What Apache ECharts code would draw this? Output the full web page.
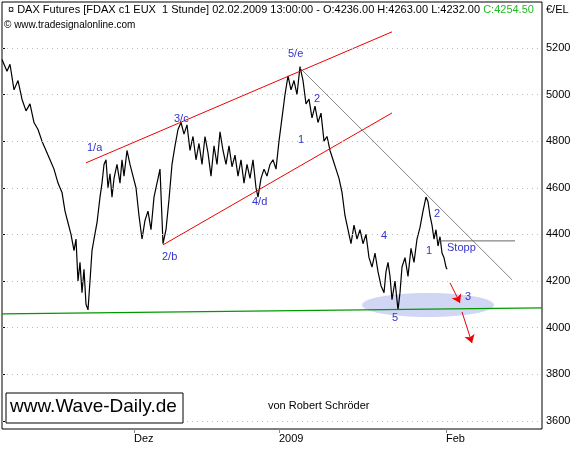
<!DOCTYPE html>
<html><head><meta charset="utf-8">
<script src="https://cdn.jsdelivr.net/npm/echarts@6/dist/echarts.min.js"></script>
<style>html,body{margin:0;background:#fff}#c{width:580px;height:449px}</style>
</head><body><div id="c"></div>
<script>
// Kursverlauf: Bar-Position auf der Zeitachse und Kurs
const barX = [0,5,8,12,16,20,24,28,32,36,40,44,48,52,56,60,63,66,69,72,74,76,78,80,82,84,86,88,90,92,95,98,100,102,104,106,108,110,112,115,118,120,122,125,128,131,134,137,140,143,146,149,152,155,158,161,164,167,170,173,176,179,182,185,188,191,194,197,200,203,206,209,212,215,218,221,224,227,230,233,236,239,242,245,248,251,254,256,259,262,265,268,271,274,277,280,283,286,289,292,295,298,301,304,307,310,313,316,319,322,325,328,331,334,337,340,343,346,349,352,355,358,361,364,367,370,373,376,379,382,384,386,388,390,393,396,398,400,403,406,409,412,415,418,421,424,426,428,430,432,434,436,438,440,442,444,445];
const price = [5150,5100,5130,5020,5060,4980,4930,4960,4880,4850,4800,4760,4720,4680,4620,4580,4500,4450,4400,4330,4380,4200,4280,4150,4250,4100,4076,4200,4330,4380,4450,4560,4620,4700,4720,4600,4660,4560,4640,4700,4620,4720,4650,4760,4700,4650,4600,4480,4380,4460,4500,4420,4560,4620,4680,4360,4420,4550,4700,4780,4850,4880,4830,4870,4760,4820,4720,4790,4700,4820,4750,4650,4780,4700,4840,4760,4700,4780,4690,4740,4650,4720,4620,4700,4640,4720,4600,4560,4640,4680,4650,4700,4720,4680,4800,4900,5000,5080,5020,5060,5000,5120,5060,4960,4980,4900,4950,4880,4920,4800,4820,4760,4720,4680,4640,4580,4480,4420,4360,4440,4380,4420,4360,4400,4300,4260,4320,4240,4180,4150,4240,4280,4220,4120,4200,4076,4150,4260,4300,4220,4340,4280,4380,4430,4500,4560,4540,4480,4440,4380,4420,4350,4390,4320,4300,4260,4250];
// Trendlinien
const upperChannel = [[84,4707],[390,5269]];
const lowerChannel = [[161,4355],[390,4921]];
const resistLine = [[298,5114],[510,4205]];
const supportLine = [[0,4059],[540,4085]];
const stoppLine = [[436,4372],[513,4372]];
const arrow1 = [[448,4192],[458,4106]];
const arrow2 = [[460,4067],[470,3934]];
const yTicks = [3600,3800,4000,4200,4400,4600,4800,5000,5200];
const xTicks = [132,277,444];
const xTickLabels = ['Dez','2009','Feb'];

const priceData = barX.map((x, i) => [x, price[i]]);

const chart = echarts.init(document.getElementById('c'));
const lineS = (data, color, w) => ({
  type: 'line', data: data, symbol: 'none',
  lineStyle: { color: color, width: w }, silent: true, z: 3
});
const arrowS = (a) => ({
  type: 'line', data: [], silent: true,
  markLine: { silent: true, symbol: ['none', 'arrow'], symbolSize: 8, label: { show: false },
    lineStyle: { color: '#ee0000', width: 1, type: 'solid' },
    data: [[{ coord: a[0] }, { coord: a[1] }]] }
});
const blue = '#3333cc';
const lbl = (x, y, t) => ({ type: 'text', left: x, top: y, style: { text: t, fill: blue, font: '11px Arial' }, z: 10 });
chart.setOption({
  animation: false,
  grid: { left: 2, right: 38, top: 2, bottom: 20, show: true, borderColor: '#000', borderWidth: 1 },
  xAxis: {
    type: 'value', min: 0, max: 540,
    axisLine: { show: false }, splitLine: { show: false },
    axisTick: { show: true, customValues: xTicks, length: 4, lineStyle: { color: '#888' } },
    axisLabel: { customValues: xTicks, formatter: v => xTickLabels[xTicks.indexOf(v)] || '', color: '#000', fontSize: 11, fontFamily: 'Arial', align: 'left', margin: 4 }
  },
  yAxis: {
    type: 'value', position: 'right', min: 3565, max: 5397, scale: true,
    axisLine: { show: false }, splitLine: { show: false },
    axisTick: { show: true, customValues: yTicks, length: 3, lineStyle: { color: '#000' } },
    axisLabel: { customValues: yTicks, formatter: v => String(v), color: '#000', fontSize: 11, fontFamily: 'Arial', margin: 4 }
  },
  series: [
    { type: 'line', data: priceData, symbol: 'none', lineStyle: { color: '#000', width: 1.2 }, z: 2,
      markLine: { silent: true, symbol: 'none', label: { show: false },
        lineStyle: { color: '#bbb', type: [1, 4], width: 1 },
        data: yTicks.map(v => ({ yAxis: v })) } },
    lineS(upperChannel, '#ee0000', 1),
    lineS(lowerChannel, '#ee0000', 1),
    lineS(resistLine, '#666', 0.8),
    lineS(supportLine, '#009900', 1.2),
    lineS(stoppLine, '#666', 1),
    arrowS(arrow1),
    arrowS(arrow2)
  ],
  graphic: [
    { type: 'ellipse', shape: { cx: 428, cy: 305, rx: 66, ry: 12 }, style: { fill: 'rgba(170,180,235,0.55)' }, z: 1 },
    { type: 'text', left: 8, top: 4, z: 10, style: {
      text: '\u00a4 DAX Futures [FDAX c1 EUX  1 Stunde] 02.02.2009 13:00:00 - O:4236.00 H:4263.00 L:4232.00 {g|C:4254.50}',
      fill: '#000', font: '11px Arial', rich: { g: { fill: '#22bb22', font: '11px Arial' } } } },
    { type: 'text', left: 4, top: 20, style: { text: '\u00a9 www.tradesignalonline.com', fill: '#000', font: '10px Arial' } },
    { type: 'text', left: 546, top: 4, style: { text: '\u20ac/EL', fill: '#000', font: '11px Arial' } },
    { type: 'rect', shape: { x: 6, y: 393, width: 177, height: 30 }, style: { fill: '#fff', stroke: '#000', lineWidth: 1 }, z: 9 },
    { type: 'text', left: 10, top: 397, style: { text: 'www.Wave-Daily.de', fill: '#000', font: '19px Arial' }, z: 10 },
    { type: 'text', left: 268, top: 400, style: { text: 'von Robert Schr\u00f6der', fill: '#000', font: '11px Arial' } },
    lbl(87, 142, '1/a'), lbl(174, 113, '3/c'), lbl(288, 48, '5/e'), lbl(314, 93, '2'),
    lbl(298, 134, '1'), lbl(252, 196, '4/d'), lbl(162, 251, '2/b'), lbl(381, 230, '4'),
    lbl(426, 245, '1'), lbl(434, 208, '2'), lbl(447, 242, 'Stopp'), lbl(392, 312, '5'), lbl(465, 291, '3')
  ]
});
</script></body></html>
